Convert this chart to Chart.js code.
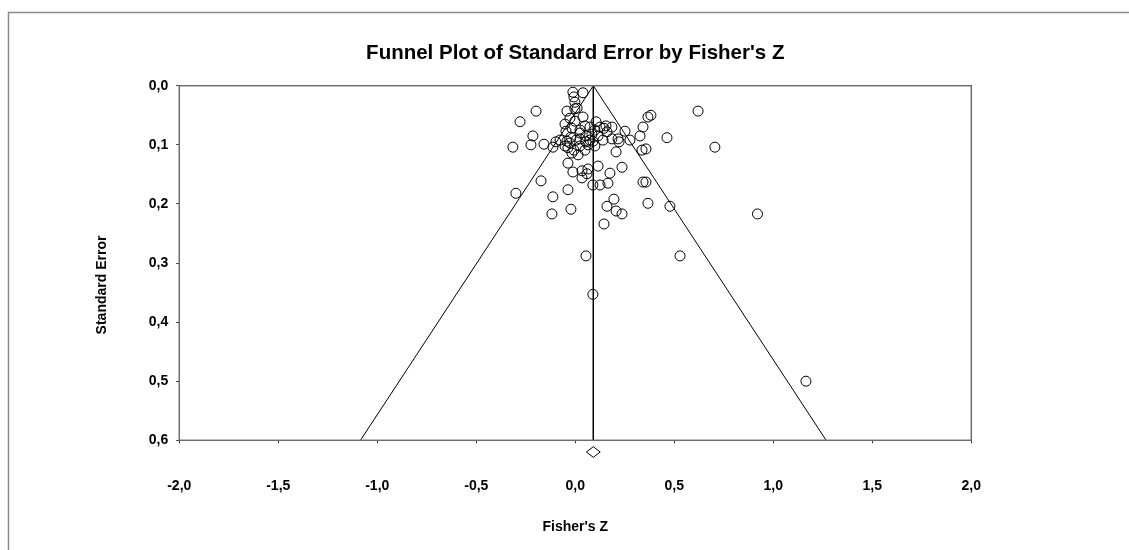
<!DOCTYPE html>
<html>
<head>
<meta charset="utf-8">
<script src="https://cdn.jsdelivr.net/npm/chart.js@4.4.1/dist/chart.umd.min.js"></script>
<style>
html,body{margin:0;padding:0;background:#fff;}
#wrap{position:relative;width:1129px;height:550px;}
</style>
</head>
<body>
<div id="wrap"><canvas id="c" width="1129" height="550"></canvas></div>
<script>
const titleText = "Funnel Plot of Standard Error by Fisher's Z";
const xAxisTitle = "Fisher's Z";
const yAxisTitle = "Standard Error";
const xTickValues = [-2, -1.5, -1, -0.5, 0, 0.5, 1, 1.5, 2];
const xTickLabels = ['-2,0', '-1,5', '-1,0', '-0,5', '0,0', '0,5', '1,0', '1,5', '2,0'];
const yTickValues = [0, 0.1, 0.2, 0.3, 0.4, 0.5, 0.6];
const yTickLabels = ['0,0', '0,1', '0,2', '0,3', '0,4', '0,5', '0,6'];

// Study effects (Fisher's Z) and their standard errors
const studyZ = [
  -0.012, -0.007, 0.039, -0.002, 0.009, -0.198, -0.279, -0.042, -0.002, 0.039,
  -0.027, -0.052, 0.049, 0.620, 0.367, 0.382, 0.099, 0.125, 0.160, 0.185,
  0.105, 0.251, 0.342, 0.084, 0.054, 0.024, 0.074, 0.115, 0.140, 0.004,
  0.327, 0.463, -0.214, 0.185, 0.216, 0.221, -0.315, -0.224, -0.158, -0.113,
  -0.027, -0.037, -0.007, 0.024, 0.049, 0.014, 0.064, -0.052, 0.089, 0.206,
  0.337, 0.357, 0.705, -0.017, -0.037, -0.012, 0.034, 0.064, 0.059, 0.034,
  0.115, 0.175, 0.236, -0.173, 0.089, 0.125, 0.165, 0.342, 0.357, -0.037,
  -0.113, -0.300, 0.195, 0.367, 0.478, 0.160, -0.022, -0.118, 0.206, 0.236,
  0.920, 0.145, 0.054, 0.529, 0.089, 1.165, 0.074, 0.145, 0.024, -0.017,
  -0.047, -0.022, 0.024, 0.099, -0.077, -0.098, -0.002, -0.042, 0.054, 0.155,
  0.276
];
const studySE = [
  0.011, 0.019, 0.012, 0.028, 0.038, 0.043, 0.061, 0.043, 0.039, 0.053,
  0.055, 0.065, 0.068, 0.043, 0.053, 0.050, 0.075, 0.070, 0.078, 0.070,
  0.061, 0.077, 0.070, 0.082, 0.085, 0.090, 0.092, 0.085, 0.092, 0.092,
  0.085, 0.088, 0.085, 0.090, 0.090, 0.095, 0.104, 0.100, 0.099, 0.104,
  0.097, 0.105, 0.109, 0.102, 0.109, 0.117, 0.100, 0.102, 0.094, 0.112,
  0.109, 0.107, 0.104, 0.114, 0.131, 0.146, 0.144, 0.141, 0.149, 0.156,
  0.136, 0.148, 0.138, 0.161, 0.168, 0.168, 0.165, 0.163, 0.163, 0.176,
  0.188, 0.182, 0.192, 0.199, 0.204, 0.204, 0.209, 0.217, 0.212, 0.217,
  0.217, 0.234, 0.288, 0.288, 0.353, 0.500, 0.070, 0.072, 0.075, 0.072,
  0.077, 0.087, 0.080, 0.102, 0.092, 0.095, 0.060, 0.094, 0.095, 0.068,
  0.092
];

// Pooled estimate and its confidence interval
const pooledZ = 0.091;
const pooledLow = 0.056;
const pooledHigh = 0.126;
const maxSE = 0.6;
const zCrit = 1.96;

const FONT = '"Liberation Sans", Arial, Helvetica, sans-serif';
Chart.defaults.font.family = FONT;
Chart.defaults.color = '#000';

const studyPoints = studyZ.map((z, i) => ({x: z, y: studySE[i]}));
const centerLine = [{x: pooledZ, y: 0}, {x: pooledZ, y: maxSE}];
const leftLine = [{x: pooledZ, y: 0}, {x: pooledZ - zCrit * maxSE, y: maxSE}];
const rightLine = [{x: pooledZ, y: 0}, {x: pooledZ + zCrit * maxSE, y: maxSE}];

const lineStyle = {showLine: true, pointRadius: 0, borderColor: '#000', borderWidth: 1, tension: 0, fill: false};

const decor = {
  id: 'decor',
  beforeDraw(chart) {
    const ctx = chart.ctx;
    ctx.save();
    ctx.strokeStyle = '#8a8a8a';
    ctx.lineWidth = 1.5;
    ctx.beginPath();
    ctx.moveTo(8.5, chart.height);
    ctx.lineTo(8.5, 12.5);
    ctx.lineTo(chart.width, 12.5);
    ctx.stroke();
    ctx.restore();
  },
  afterDatasetsDraw(chart) {
    const ctx = chart.ctx;
    const a = chart.chartArea;
    ctx.save();
    ctx.strokeStyle = '#6e6e6e';
    ctx.lineWidth = 1.5;
    ctx.strokeRect(a.left, a.top, a.right - a.left, a.bottom - a.top);
    // pooled estimate diamond
    const xs = chart.scales.x;
    const cx = xs.getPixelForValue(pooledZ);
    const lx = xs.getPixelForValue(pooledLow);
    const rx = xs.getPixelForValue(pooledHigh);
    const cy = a.bottom + 11.7;
    const hh = 5.3;
    ctx.strokeStyle = '#000';
    ctx.lineWidth = 1;
    ctx.beginPath();
    ctx.moveTo(lx, cy);
    ctx.lineTo(cx, cy - hh);
    ctx.lineTo(rx, cy);
    ctx.lineTo(cx, cy + hh);
    ctx.closePath();
    ctx.stroke();
    ctx.restore();
  },
  afterDraw(chart) {
    const ctx = chart.ctx;
    const a = chart.chartArea;
    ctx.save();
    ctx.fillStyle = '#000';
    ctx.textAlign = 'center';
    ctx.textBaseline = 'middle';
    // main title, centred over the plot area
    ctx.font = 'bold 20.5px ' + FONT;
    ctx.fillText(titleText, (a.left + a.right) / 2, a.top - 32);
    // vertical axis title
    ctx.font = 'bold 14px ' + FONT;
    ctx.translate(a.left - 77, (a.top + a.bottom) / 2 + 22);
    ctx.rotate(-Math.PI / 2);
    ctx.fillText(yAxisTitle, 0, 0);
    ctx.restore();
  }
};

new Chart(document.getElementById('c'), {
  type: 'scatter',
  data: {
    datasets: [
      {label: 'Studies', data: studyPoints, pointRadius: 5, pointHoverRadius: 5, borderColor: '#000', backgroundColor: 'rgba(0,0,0,0)', borderWidth: 1, pointBorderWidth: 1},
      Object.assign({label: 'Center', data: centerLine}, lineStyle),
      Object.assign({label: 'Left', data: leftLine}, lineStyle),
      Object.assign({label: 'Right', data: rightLine}, lineStyle)
    ]
  },
  options: {
    responsive: false,
    animation: false,
    devicePixelRatio: 1,
    layout: {padding: {left: 140.8, right: 157.7, top: 85.7, bottom: 0}},
    plugins: {
      legend: {display: false},
      tooltip: {enabled: false},
      title: {display: false}
    },
    scales: {
      x: {
        type: 'linear',
        min: -2, max: 2,
        afterBuildTicks(scale) { scale.ticks = xTickValues.map(v => ({value: v})); },
        ticks: {
          autoSkip: false, maxRotation: 0, padding: 34.3, color: '#000',
          font: {size: 14, weight: 'bold', family: FONT},
          callback: (v, i) => xTickLabels[i]
        },
        grid: {drawOnChartArea: false, drawTicks: true, tickLength: 3, color: '#333', lineWidth: 1},
        border: {display: false},
        title: {
          display: true, text: xAxisTitle, color: '#000',
          font: {size: 14, weight: 'bold', family: FONT},
          padding: {top: -10.4, bottom: 14.9}
        }
      },
      y: {
        type: 'linear',
        reverse: true,
        min: 0, max: 0.6,
        afterBuildTicks(scale) { scale.ticks = yTickValues.map(v => ({value: v})); },
        ticks: {
          autoSkip: false, padding: 8, color: '#000',
          font: {size: 14, weight: 'bold', family: FONT},
          callback: (v, i) => yTickLabels[i]
        },
        grid: {drawOnChartArea: false, drawTicks: true, tickLength: 3, color: '#333', lineWidth: 1},
        border: {display: false},
        title: {display: false}
      }
    }
  },
  plugins: [decor]
});
</script>
</body>
</html>
